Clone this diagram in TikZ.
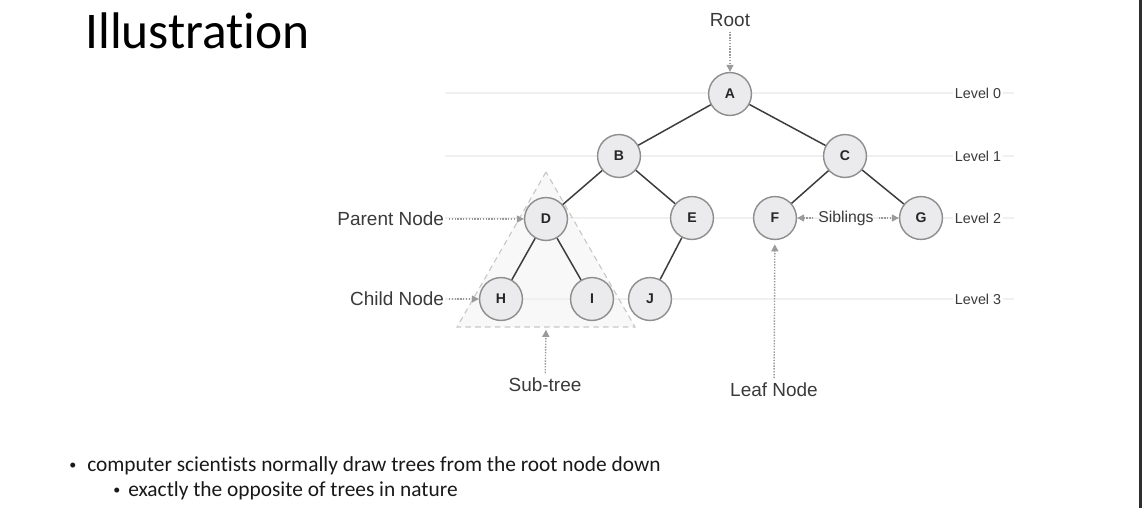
\documentclass[tikz,border=0pt]{standalone}
\usepackage{fontspec}
\setmainfont{Carlito}[Ligatures=NoCommon]
\newfontfamily\labelfont{Liberation Sans}
\usetikzlibrary{arrows.meta}
\definecolor{nodefill}{HTML}{EBEBED}
\definecolor{nodeline}{HTML}{8E8E8E}
\definecolor{edgecol}{HTML}{3C3C3C}
\definecolor{levelcol}{HTML}{F0F0F0}
\definecolor{pointcol}{HTML}{9A9A9A}
\definecolor{labelcol}{HTML}{3A3A3A}
\definecolor{subfill}{HTML}{F8F8F8}
\definecolor{subline}{HTML}{C8C8C8}

\begin{document}
\begin{tikzpicture}[x=0.025cm,y=-0.025cm,
    treenode/.style={circle, draw=nodeline, fill=nodefill, line width=1pt, minimum size=30.5pt, inner sep=0pt, text=black!85, font=\labelfont\bfseries\fontsize{10}{11}\selectfont},
    treeedge/.style={draw=edgecol, line width=1.05pt},
    levelline/.style={draw=levelcol, line width=0.8pt},
    levellabel/.style={fill=white, inner sep=1pt, text=labelcol, font=\labelfont\fontsize{10.2}{12}\selectfont},
    annolabel/.style={text=labelcol, font=\labelfont\fontsize{13.5}{16}\selectfont},
    pointer/.style={draw=pointcol, densely dotted, line width=1pt, -{Triangle[length=5pt,width=5pt]}},
    bullettext/.style={anchor=base, inner sep=0pt, text=black!90, font=\fontsize{15.2}{18}\selectfont},
    bulletdot/.style={anchor=base, inner sep=0pt, text=black!90, font=\fontsize{10}{12}\selectfont}
    ]
\useasboundingbox (0,0) rectangle (1142,508);
\fill[white] (0,0) rectangle (1142,508);
\fill[black!82] (1139,0) rectangle (1142,508);

% Title and bullets
\node[anchor=base west, inner sep=0pt, font=\fontsize{36.6}{42}\selectfont] (title) at (85,48) {Illustration};
\node[bulletdot] (bulletone) at (73,469) {•};
\node[bullettext, anchor=base west] (lineone) at (87,471) {computer scientists normally draw trees from the root node down};
\node[bulletdot] (bullettwo) at (117,494) {•};
\node[bullettext, anchor=base west] (linetwo) at (128,496) {exactly the opposite of trees in nature};

%%%%%%%%%%%%%%%%%%%% Sub-tree %%%%%%%%%%%%%%%%%%%%%%%%%%
\coordinate (subtop) at (546,172);
\coordinate (subleft) at (457,327);
\coordinate (subright) at (635,327);
\coordinate (subbase) at (546,327);
\fill[subfill] (subtop) -- (subleft) -- (subright) -- cycle;

%%%%%%%%%%%%%%%%%%%% Levels %%%%%%%%%%%%%%%%%%%%%%%%%%
\foreach \lev/\ypos in {0/93, 1/156, 2/218, 3/299}
{
    \draw[levelline] (445,\ypos) -- (1014,\ypos);
    \node[levellabel] (level\lev) at (978,\ypos) {Level \lev};
}
\draw[dash pattern=on 4pt off 3pt, draw=subline, line width=0.8pt] (subtop) -- (subleft) -- (subright) -- cycle;

%%%%%%%%%%%%%%%%%%%% Tree %%%%%%%%%%%%%%%%%%%%%%%%%%
\foreach \name/\xpos/\ypos in {A/730/94, B/619/156, C/845/156, D/546/219, E/692/218, F/775/218, G/921/218, H/501/299, I/592/299, J/650/299}
{
    \node[treenode] (\name) at (\xpos,\ypos) {\name};
}
\foreach \from/\to in {A/B, A/C, B/D, B/E, C/F, C/G, D/H, D/I, E/J}
{
    \path[treeedge] (\from) edge (\to);
}

%%%%%%%%%%%%%%%%%%%% Labels %%%%%%%%%%%%%%%%%%%%%%%%%%
\node[annolabel] (root) at (730,20) {Root};
\draw[pointer] (root) -- (A);
\node[annolabel, anchor=east] (parent) at (449,219) {Parent Node};
\draw[pointer] (parent) -- (D);
\node[annolabel, anchor=east] (child) at (449,299) {Child Node};
\draw[pointer] (child) -- (H);
\node[annolabel, font=\labelfont\fontsize{11.2}{13}\selectfont] (siblings) at (846,218) {Siblings};
\draw[pointer] (siblings) -- (F);
\draw[pointer] (siblings) -- (G);
\node[annolabel] (subtree) at (545,385) {Sub-tree};
\draw[pointer, shorten >=2pt] (subtree) -- (subbase);
\node[annolabel] (leaf) at (774,390) {Leaf Node};
\draw[pointer, shorten >=3pt] (leaf) -- (F);

\end{tikzpicture}
\end{document}
